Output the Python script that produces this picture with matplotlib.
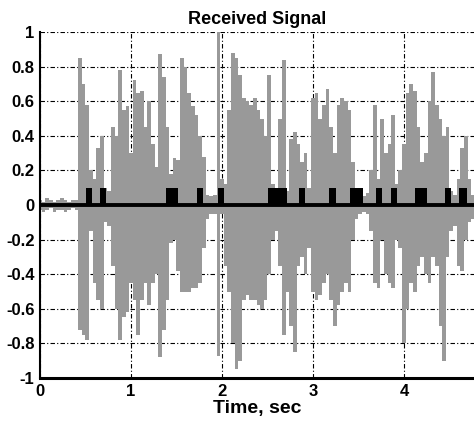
import numpy as np
import matplotlib
matplotlib.use("Agg")
import matplotlib.pyplot as plt

plt.rcParams['font.family'] = ['Liberation Sans', 'DejaVu Sans']
plt.rcParams['font.weight'] = 'bold'

dt = 0.04
sig_top = [0.03, 0.02, 0.04, 0.03, 0.02, 0.03, 0.04, 0.03, 0.02, 0.03, 0.03,
           0.85, 0.70, 0.58, 0.20, 0.15, 0.33, 0.40, 0.10, 0.08, 0.45,
           0.40, 0.78, 0.55, 0.57, 0.30, 0.72, 0.65, 0.66, 0.45, 0.60,
           0.35, 0.22, 0.87, 0.74, 0.45, 0.18, 0.27, 0.26, 0.85, 0.80,
           0.65, 0.57, 0.52, 0.40, 0.28, 0.06, 0.05, 0.06, 1.00, 0.15,
           0.12, 0.55, 0.88, 0.85, 0.75, 0.62, 0.60, 0.58, 0.62, 0.55,
           0.50, 0.40, 0.75, 0.12, 0.10, 0.50, 0.84, 0.08, 0.38, 0.42,
           0.35, 0.25, 0.30, 0.10, 0.62, 0.65, 0.50, 0.58, 0.67, 0.45,
           0.30, 0.58, 0.62, 0.60, 0.55, 0.25, 0.08, 0.06, 0.05, 0.07,
           0.20, 0.58, 0.15, 0.50, 0.30, 0.35, 0.52, 0.12, 0.20, 0.35,
           0.65, 0.70, 0.66, 0.45, 0.25, 0.30, 0.60, 0.77, 0.58, 0.50,
           0.40, 0.45, 0.08, 0.06, 0.15, 0.33, 0.40, 0.15, 0.06, 0.05]
sig_bot = [-0.03, -0.04, -0.03, -0.02, -0.04, -0.03, -0.03, -0.04, -0.03, -0.02, -0.03,
           -0.72, -0.75, -0.78, -0.15, -0.45, -0.55, -0.60, -0.10, -0.12, -0.35,
           -0.60, -0.78, -0.65, -0.62, -0.45, -0.55, -0.75, -0.55, -0.45, -0.58,
           -0.45, -0.40, -0.88, -0.72, -0.55, -0.22, -0.20, -0.38, -0.50, -0.50,
           -0.50, -0.48, -0.48, -0.45, -0.25, -0.08, -0.05, -0.05, -0.87, -0.05,
           -0.35, -0.50, -0.80, -0.95, -0.90, -0.55, -0.52, -0.55, -0.55, -0.58,
           -0.60, -0.55, -0.40, -0.20, -0.15, -0.35, -0.75, -0.50, -0.70, -0.85,
           -0.35, -0.30, -0.40, -0.25, -0.50, -0.55, -0.52, -0.45, -0.40, -0.55,
           -0.70, -0.58, -0.50, -0.45, -0.50, -0.20, -0.08, -0.05, -0.04, -0.05,
           -0.15, -0.45, -0.48, -0.20, -0.40, -0.45, -0.48, -0.20, -0.25, -0.80,
           -0.60, -0.45, -0.50, -0.35, -0.30, -0.40, -0.45, -0.30, -0.35, -0.70,
           -0.90, -0.30, -0.15, -0.12, -0.35, -0.38, -0.20, -0.10, -0.08, -0.06]

# Sprachaktivitaet (Start/Ende in s)
vad_start = [0.505, 0.659, 1.385, 1.725, 1.956, 2.505, 2.846, 3.176, 3.407,
             3.692, 3.857, 4.121, 4.451, 4.604]
vad_end = [0.571, 0.725, 1.516, 1.791, 2.022, 2.714, 2.912, 3.253, 3.549,
           3.758, 3.923, 4.253, 4.516, 4.692]
vad_level = 0.1

yticks = [1, 0.8, 0.6, 0.4, 0.2, 0, -0.2, -0.4, -0.6, -0.8, -1]
ylabels = ['1', '0.8', '0.6', '0.4', '0.2', '0', '-0.2', '-0.4', '-0.6', '-0.8', '-1']
xticks = [0, 1, 2, 3, 4]

zeit = np.arange(len(sig_top)) * dt

fig = plt.figure(figsize=(4.74, 4.22), dpi=100)
ax = fig.add_axes([40 / 474, 1 - 378 / 422, 1 - 40 / 474, (378 - 32) / 422])

ax.fill_between(zeit, sig_bot, sig_top, step='mid', color='#999999', lw=0, zorder=2)

ax.axhline(0, color='k', lw=2.8, zorder=3)
for a, b in zip(vad_start, vad_end):
    ax.fill_between([a, b], 0, vad_level, color='k', lw=0, zorder=3)

ax.set_xlim(0, 4.77)
ax.set_ylim(-1, 1)
ax.set_xticks(xticks)
ax.set_yticks(yticks)
ax.set_yticklabels(ylabels)
ax.tick_params(length=0, labelsize=12, pad=4)
for lab in ax.get_xticklabels() + ax.get_yticklabels():
    lab.set_fontweight('bold')

ax.grid(True, color='k', lw=0.8, linestyle=(0, (4, 2, 1, 2)), zorder=1)
ax.set_axisbelow(True)

ax.spines['top'].set_visible(False)
ax.spines['right'].set_visible(False)
ax.spines['left'].set_linewidth(1.5)
ax.spines['bottom'].set_linewidth(2.2)

ax.set_title('Received Signal', fontsize=13, fontweight='bold', pad=6)
ax.set_xlabel('Time, sec', fontsize=14, fontweight='bold', labelpad=1)

fig.savefig('out.png', dpi=100)
